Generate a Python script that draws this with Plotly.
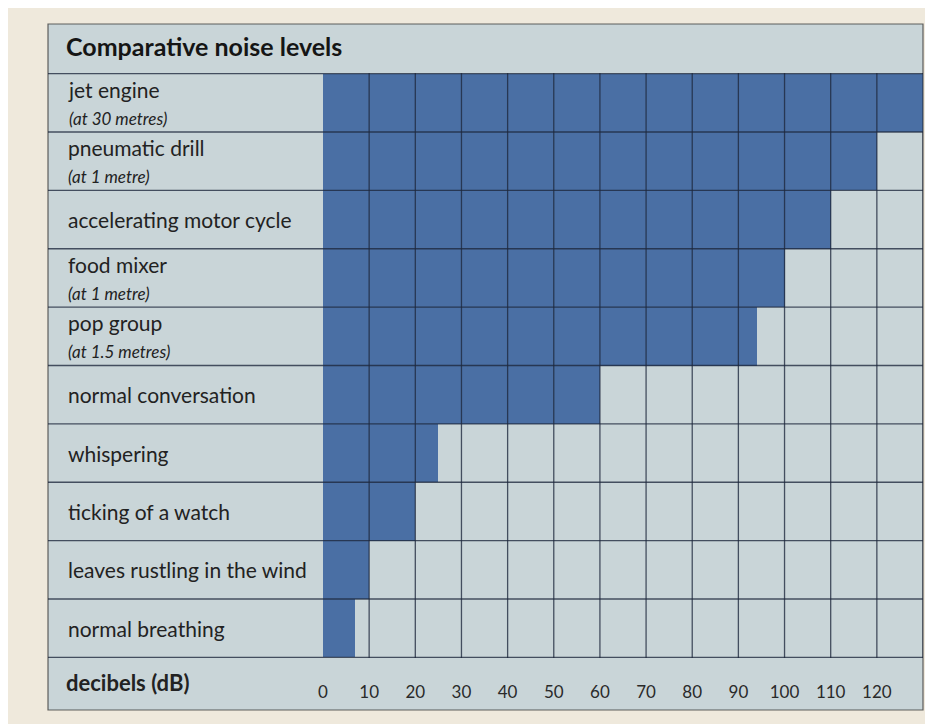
import plotly.graph_objects as go

# ---- data ----
categories = ["jet engine", "pneumatic drill", "accelerating motor cycle", "food mixer",
              "pop group", "normal conversation", "whispering", "ticking of a watch",
              "leaves rustling in the wind", "normal breathing"]
notes = ["(at 30 metres)", "(at 1 metre)", "", "(at 1 metre)", "(at 1.5 metres)",
         "", "", "", "", ""]
decibels = [130, 120, 110, 100, 94, 60, 25, 20, 10, 7]
tick_values = [0, 10, 20, 30, 40, 50, 60, 70, 80, 90, 100, 110, 120]
tick_labels = [str(v) for v in tick_values]
x_max = 130

title_text = "Comparative noise levels"
axis_label = "decibels (dB)"

# ---- styles ----
W, H = 933, 724
ML, MR, MT, MB = 315, 18, 65, 74
PW, PH = W - ML - MR, H - MT - MB
BOX_L, BOX_T, BOX_B = 40, 16, 702
BAR_BLUE = "#4a6fa4"
PANEL = "#c9d5d8"
PAGE = "#efe9dc"
LINE = "rgba(30,40,60,0.78)"
FONT = "Lato, 'Open Sans', sans-serif"

def px_to_paper_x(px):
    return (px - ML) / PW

def px_to_paper_y(py):
    return 1 - (py - MT) / PH

fig = go.Figure()
fig.add_trace(go.Bar(
    y=categories, x=decibels, orientation="h",
    marker=dict(color=BAR_BLUE, line=dict(width=0)),
    width=1.0, hoverinfo="x+y", showlegend=False,
))

shapes = []
# panel box
shapes.append(dict(type="rect", xref="paper", yref="paper",
                   x0=px_to_paper_x(BOX_L), x1=1, y0=px_to_paper_y(BOX_B), y1=px_to_paper_y(BOX_T),
                   fillcolor=PANEL, line=dict(color="rgba(60,60,60,0.8)", width=1.2), layer="below"))
# vertical grid lines at every tick
for v in tick_values[1:] + [x_max]:
    shapes.append(dict(type="line", xref="x", yref="paper", x0=v, x1=v, y0=0, y1=1,
                       line=dict(color=LINE, width=1.3), layer="above"))
# row separators across the whole panel
n = len(categories)
for i in range(n + 1):
    yb = i - 0.5
    shapes.append(dict(type="line", xref="paper", yref="y",
                       x0=px_to_paper_x(BOX_L), x1=1, y0=yb, y1=yb,
                       line=dict(color=LINE, width=1.3), layer="above"))

annotations = []
annotations.append(dict(text="<b>" + title_text + "</b>", xref="paper", yref="paper",
                        x=px_to_paper_x(56), y=px_to_paper_y(38), xanchor="left", yanchor="middle",
                        showarrow=False, font=dict(family=FONT, size=25, color="#151515")))
for cat, note in zip(categories, notes):
    if note:
        txt = cat + "<br><i><span style='font-size:17px'>" + note + "</span></i>"
    else:
        txt = cat
    annotations.append(dict(text=txt, xref="paper", yref="y", x=px_to_paper_x(58), y=cat,
                            xanchor="left", yanchor="middle", align="left", showarrow=False,
                            font=dict(family=FONT, size=21, color="#222")))
annotations.append(dict(text="<b>" + axis_label + "</b>", xref="paper", yref="paper",
                        x=px_to_paper_x(56), y=px_to_paper_y(674), xanchor="left", yanchor="middle",
                        showarrow=False, font=dict(family=FONT, size=22, color="#222")))

fig.update_layout(
    width=W, height=H,
    margin=dict(l=ML, r=MR, t=MT, b=MB),
    paper_bgcolor=PAGE, plot_bgcolor=PANEL,
    bargap=0,
    shapes=shapes, annotations=annotations,
    xaxis=dict(range=[0, x_max], tickvals=tick_values, ticktext=tick_labels,
               showgrid=False, zeroline=False, showline=False, ticks="",
               ticklabelstandoff=22, tickfont=dict(family=FONT, size=17, color="#2a2a2a")),
    yaxis=dict(categoryorder="array", categoryarray=categories, autorange="reversed",
               showgrid=False, zeroline=False, showline=False, showticklabels=False, ticks=""),
)

fig.write_html("out.html")
